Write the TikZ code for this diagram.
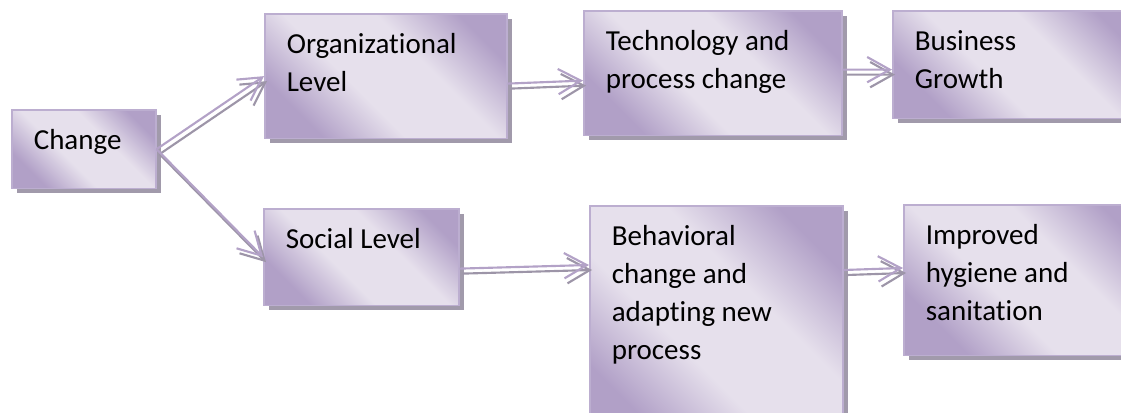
\documentclass[tikz,border=0pt]{standalone}
\usepackage{fontspec}
\setmainfont{Carlito}[Ligatures=NoCommon]
\definecolor{stagedark}{HTML}{B1A0C7}
\definecolor{stagelight}{HTML}{E6E0EC}
\definecolor{stageline}{HTML}{BCAED0}
\definecolor{shadowgray}{HTML}{A19AAB}
\definecolor{arrowpurple}{HTML}{B3A2C7}
\definecolor{arrowshadow}{HTML}{9D95A8}
\usetikzlibrary{positioning,arrows.meta,shadows}
\pgfdeclarehorizontalshading{stagegrad}{100bp}{color(0bp)=(stagedark); color(26bp)=(stagedark);
  color(42bp)=(stagelight); color(60bp)=(stagelight); color(76bp)=(stagedark); color(100bp)=(stagedark)}
\newlength{\pxu}\setlength{\pxu}{0.75pt}
\newcommand{\stagetext}[3]{\parbox[t][#2\pxu][t]{#1\pxu}{\raggedright\strut#3}}

\begin{document}
\begin{tikzpicture}[x=0.75pt, y=-0.75pt,
  every node/.style={font=\fontsize{21.75}{28.5}\selectfont},
  stage/.style={rectangle, anchor=north west, draw=stageline, line width=1.2pt,
                shade, shading=stagegrad, shading angle=45,
                inner xsep=16.5pt, inner ysep=10pt,
                drop shadow={shadow xshift=3.75pt, shadow yshift=-3.75pt,
                             fill=shadowgray, opacity=1}},
  arr/.style={draw=arrowpurple, line width=1.6pt, -{Straight Barb[length=17pt,width=19pt]}},
  arrshadow/.style={arr, draw=arrowshadow, transform canvas={shift={(2.25pt,-3.75pt)}}}
]
  \useasboundingbox (0,0) rectangle (1121,412);
  \clip (0,0) rectangle (1121,412);

  \node[stage] (chg)  at (11,109)  {\stagetext{100}{52}{Change}};
  \node[stage] (org)  at (264,13)  {\stagetext{198}{98}{Organizational\\Level}};
  \node[stage] (soc)  at (263,208) {\stagetext{151}{70}{Social Level}};
  \node[stage] (tech) at (583,10)  {\stagetext{214}{98}{Technology and\\process change}};
  \node[stage] (biz)  at (892,10)  {\stagetext{206}{81}{Business\\Growth}};
  \node[stage] (beh)  at (589,205) {\stagetext{209}{213}{Behavioral\\change and\\adapting new\\process}};
  \node[stage] (hyg)  at (903,204) {\stagetext{206}{124}{Improved\\hygiene and\\sanitation}};

  % shadow first, then the arrow itself
  \draw[arrshadow] (chg.east) -- (org.west);
  \draw[arr]       (chg.east) -- (org.west);
  \draw[arrshadow] (chg.east) -- (soc.west);
  \draw[arr]       (chg.east) -- (soc.west);
  \draw[arrshadow] ([yshift=-5.6pt]org.east) -- ([yshift=-5.6pt]tech.west);
  \draw[arr]       ([yshift=-5.6pt]org.east) -- ([yshift=-5.6pt]tech.west);
  \draw[arrshadow] ([yshift=2.6pt]tech.east) -- ([yshift=-3.75pt]biz.west);
  \draw[arr]       ([yshift=2.6pt]tech.east) -- ([yshift=-3.75pt]biz.west);
  \draw[arrshadow] ([yshift=-8.6pt]soc.east) -- ([yshift=-45pt]beh.north west);
  \draw[arr]       ([yshift=-8.6pt]soc.east) -- ([yshift=-45pt]beh.north west);
  \draw[arrshadow] ([yshift=-48.75pt]beh.north east) -- ([yshift=-48pt]hyg.north west);
  \draw[arr]       ([yshift=-48.75pt]beh.north east) -- ([yshift=-48pt]hyg.north west);
\end{tikzpicture}
\end{document}
